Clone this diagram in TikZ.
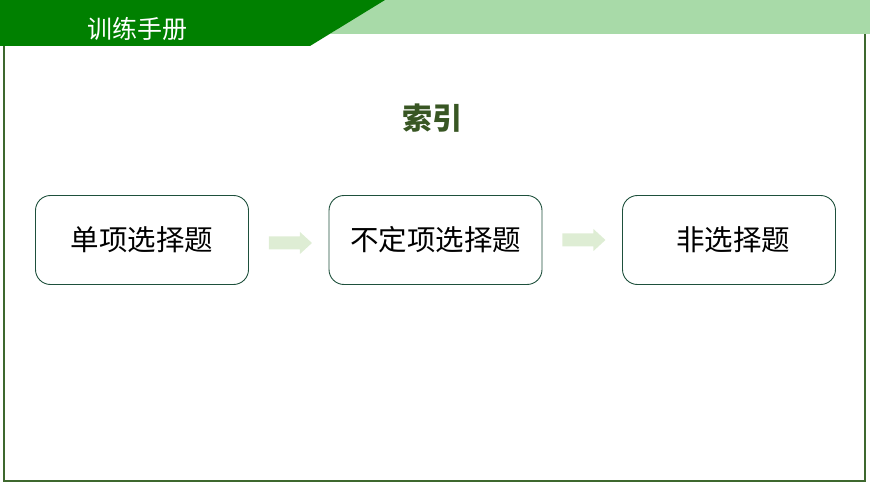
\documentclass[tikz,border=0pt]{standalone}
\usepackage{fontspec}
\setmainfont{Noto Sans CJK SC}
\definecolor{hdark}{RGB}{0,128,0}
\definecolor{hlight}{RGB}{168,218,168}
\definecolor{frameg}{RGB}{62,104,46}
\definecolor{boxg}{RGB}{30,80,60}
\definecolor{arrowg}{RGB}{222,237,212}
\definecolor{titleg}{RGB}{56,86,35}
\tikzset{
  itembox/.style={draw=boxg, line width=0.9bp, rounded corners=15bp, minimum width=213bp, minimum height=89bp, inner sep=0pt, font=\fontsize{28.5bp}{34bp}\selectfont},
  flowarrow/.style={fill=arrowg, draw=none}
}
\newcommand{\blockarrow}[2]{% start anchor, dy
  \fill[flowarrow] ([shift={(20,#2-6.5)}]#1) -- ++(31,0) -- ++(0,-4.5) -- ++(12,11) -- ++(-12,11) -- ++(0,-4.5) -- ++(-31,0) -- cycle;
}
\begin{document}
\begin{tikzpicture}[x=1bp,y=-1bp]
\useasboundingbox (0,0) rectangle (870,489);
% header
\fill[hlight] (380,0) -- (870,0) -- (870,34) -- (330,34) -- cycle;
\fill[hdark] (0,0) -- (385,0) -- (310,46) -- (0,46) -- cycle;
\node[text=white, font=\fontsize{25bp}{30bp}\selectfont] (head) at (137,29) {训练手册};
% frame
\draw[frameg, line width=2.5bp] (4,46) -- (4,481) -- (865,481) -- (865,34);
% title
\node[text=titleg, font=\fontsize{30bp}{36bp}\selectfont\bfseries] (title) at (432,118) {索引};
% boxes
\node[itembox] (b1) at (142,240) {\raisebox{-1.5bp}{单项选择题}};
\node[itembox] (b2) at (435.5,240) {\raisebox{-3bp}{不定项选择题}};
\node[itembox] (b3) at (729,240) {\hspace*{8bp}\raisebox{-5bp}{非选择题}};
% arrows
\blockarrow{b1.east}{3}
\blockarrow{b2.east}{0}
\end{tikzpicture}
\end{document}
